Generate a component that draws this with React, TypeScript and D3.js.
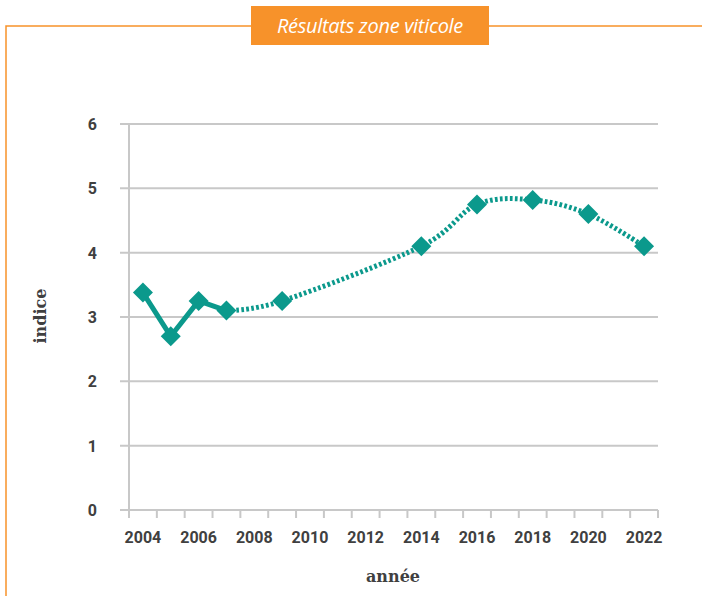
import React, { useEffect, useRef } from 'react';
import * as d3 from 'd3';

const WIDTH = 702;
const HEIGHT = 596;

const years = d3.range(2004, 2023).map(String);
const tickYears = ['2004', '2006', '2008', '2010', '2012', '2014', '2016', '2018', '2020', '2022'];
const yTicks = [0, 1, 2, 3, 4, 5, 6];

// solid part (consecutive years) and dotted part (gaps between measures)
const solidYears = ['2004', '2005', '2006', '2007'];
const solidValues = [3.38, 2.7, 3.25, 3.1];
const dottedYears = ['2007', '2009', '2014', '2016', '2018', '2020', '2022'];
const dottedValues = [3.1, 3.25, 4.1, 4.75, 4.82, 4.6, 4.1];

const TEAL = '#0b998c';
const ORANGE = '#f7922a';
const GRID = '#c8c8c8';
const TEXT = '#404040';

export default function App() {
  const ref = useRef(null);

  useEffect(() => {
    const svg = d3.select(ref.current);
    svg.selectAll('*').remove();

    const x = d3.scaleBand().domain(years).range([129, 658]).padding(0);
    const y = d3.scaleLinear().domain([0, 6]).range([510, 124]);
    const cx = (d) => x(d) + x.bandwidth() / 2;

    // frame
    svg.append('path')
      .attr('d', `M6,${HEIGHT} L6,26 L${WIDTH},26`)
      .attr('fill', 'none')
      .attr('stroke', ORANGE)
      .attr('stroke-width', 1.5);

    svg.append('rect')
      .attr('x', 251).attr('y', 6).attr('width', 238).attr('height', 39)
      .attr('fill', ORANGE);
    svg.append('text')
      .attr('x', 370).attr('y', 33)
      .attr('text-anchor', 'middle')
      .attr('fill', 'white')
      .attr('font-family', 'Open Sans')
      .attr('font-style', 'italic')
      .attr('font-size', 20)
      .attr('letter-spacing', -0.3)
      .text('Résultats zone viticole');

    // gridlines + y ticks
    const gy = svg.append('g');
    gy.selectAll('line')
      .data(yTicks)
      .enter()
      .append('line')
      .attr('x1', 120).attr('x2', 658)
      .attr('y1', (d) => y(d)).attr('y2', (d) => y(d))
      .attr('stroke', GRID).attr('stroke-width', 2);

    gy.append('line')
      .attr('x1', 129).attr('x2', 129)
      .attr('y1', y(6)).attr('y2', 518)
      .attr('stroke', GRID).attr('stroke-width', 2);

    // x ticks at category boundaries
    const bounds = years.map((d) => x(d)).concat([658]);
    svg.append('g').selectAll('line')
      .data(bounds)
      .enter()
      .append('line')
      .attr('x1', (d) => d).attr('x2', (d) => d)
      .attr('y1', 510).attr('y2', 518)
      .attr('stroke', GRID).attr('stroke-width', 2);

    svg.append('g').selectAll('text')
      .data(yTicks)
      .enter()
      .append('text')
      .attr('x', 97).attr('y', (d) => y(d) + 6)
      .attr('text-anchor', 'end')
      .attr('font-family', 'Roboto').attr('font-weight', 'bold')
      .attr('font-size', 16).attr('fill', TEXT)
      .text((d) => d);

    svg.append('g').selectAll('text')
      .data(tickYears)
      .enter()
      .append('text')
      .attr('x', (d) => cx(d)).attr('y', 543)
      .attr('text-anchor', 'middle')
      .attr('font-family', 'Roboto').attr('font-weight', 'bold')
      .attr('font-size', 16).attr('fill', TEXT)
      .text((d) => d);

    // axis titles
    svg.append('text')
      .attr('transform', 'translate(46,316) rotate(-90)')
      .attr('text-anchor', 'middle')
      .attr('font-family', 'DejaVu Serif').attr('font-weight', 'bold')
      .attr('font-size', 16).attr('fill', TEXT)
      .text('indice');
    svg.append('text')
      .attr('x', 393).attr('y', 582)
      .attr('text-anchor', 'middle')
      .attr('font-family', 'DejaVu Serif').attr('font-weight', 'bold')
      .attr('font-size', 16).attr('fill', TEXT)
      .text('année');

    // lines
    const solid = solidYears.map((d, i) => [cx(d), y(solidValues[i])]);
    const dotted = dottedYears.map((d, i) => [cx(d), y(dottedValues[i])]);

    svg.append('path')
      .attr('d', d3.line()(solid))
      .attr('fill', 'none').attr('stroke', TEAL)
      .attr('stroke-width', 5).attr('stroke-linejoin', 'round');

    svg.append('path')
      .attr('d', d3.line().curve(d3.curveCardinal.tension(0))(dotted))
      .attr('fill', 'none').attr('stroke', TEAL)
      .attr('stroke-width', 5).attr('stroke-dasharray', '2.7 2.3');

    const all = solid.concat(dotted.slice(1));
    svg.append('g').selectAll('path')
      .data(all)
      .enter()
      .append('path')
      .attr('transform', (d) => `translate(${d[0]},${d[1]}) rotate(45)`)
      .attr('d', d3.symbol(d3.symbolSquare, 200)())
      .attr('fill', TEAL);
  }, []);

  return (
    <svg
      ref={ref}
      width={WIDTH}
      height={HEIGHT}
      style={{ position: 'absolute', left: 0, top: 0, background: 'white' }}
    />
  );
}
